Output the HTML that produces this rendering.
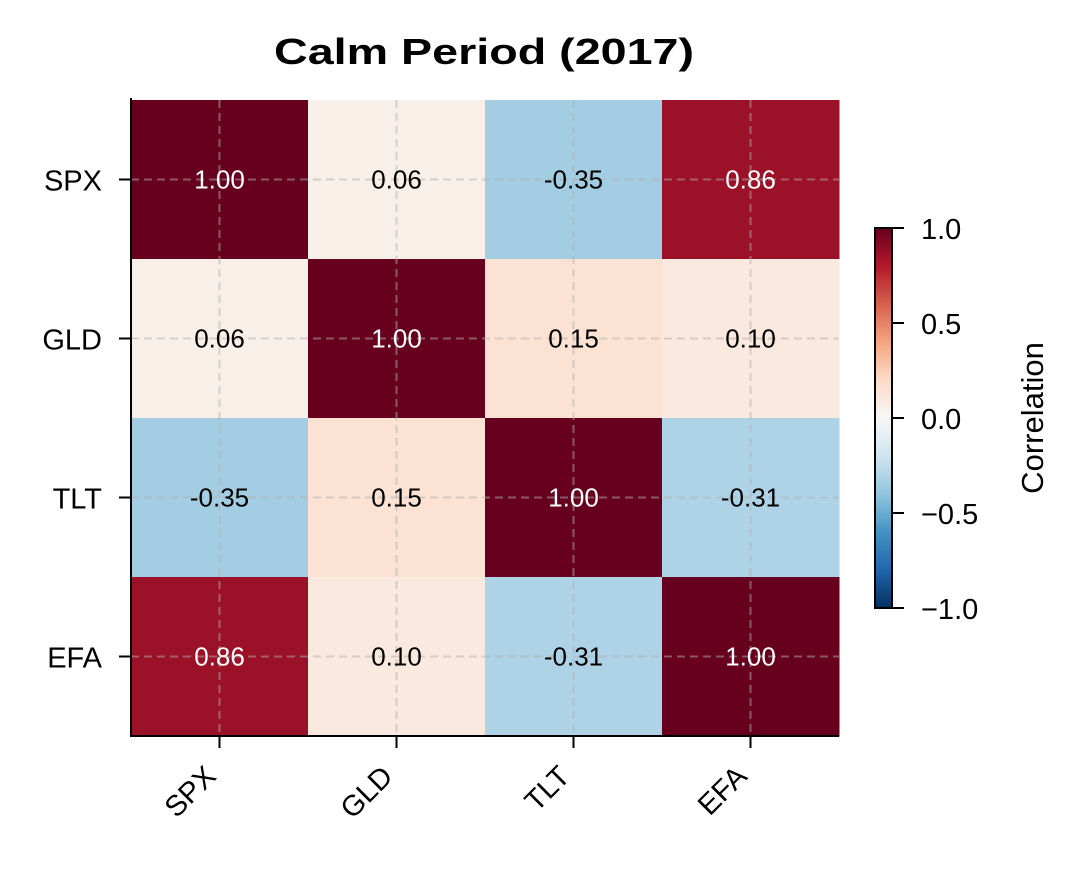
<!DOCTYPE html>
<html><head><meta charset="utf-8"><style>
body{margin:0;background:#fff;}
svg text{font-family:"Liberation Sans",sans-serif;}
</style></head><body>
<svg id="chart" width="1083" height="874"></svg>
<script>
const labels=["SPX","GLD","TLT","EFA"];
const matrix=[
 [1.00,0.06,-0.35,0.86],
 [0.06,1.00,0.15,0.10],
 [-0.35,0.15,1.00,-0.31],
 [0.86,0.10,-0.31,1.00]];
const cbTicks=[1.0,0.5,0.0,-0.5,-1.0];
const cbTickLabels=["1.0","0.5","0.0","\u22120.5","\u22121.0"];

const NS="http://www.w3.org/2000/svg";
const svg=document.getElementById('chart');
function mk(tag,attrs,parent){const e=document.createElementNS(NS,tag);for(const k in attrs)e.setAttribute(k,attrs[k]);(parent||svg).appendChild(e);return e;}
const rdbu=[[0.403921,0,0.121568],[0.698039,0.094117,0.168627],[0.839215,0.376470,0.301960],[0.956862,0.647058,0.509803],[0.992156,0.858823,0.780392],[0.968627,0.968627,0.968627],[0.819607,0.898039,0.941176],[0.572549,0.772549,0.870588],[0.262745,0.576470,0.764705],[0.129411,0.4,0.674509],[0.019607,0.188235,0.380392]];
function color(v){let t=(1-(v+1)/2)*10;t=Math.max(0,Math.min(10,t));const i=Math.min(9,Math.floor(t)),f=t-i;const c=rdbu[i].map((a,k)=>Math.round(255*(a+(rdbu[i+1][k]-a)*f)));return `rgb(${c[0]},${c[1]},${c[2]})`;}
const X0=131,X1=839,Y0=100,Y1=736,n=labels.length;
const cw=(X1-X0)/n,ch=(Y1-Y0)/n;
const xc=j=>X0+cw*(j+0.5), yc=i=>Y0+ch*(i+0.5);
const cells=mk('g',{});

matrix.forEach((row,i)=>row.forEach((v,j)=>{
 const r=mk('rect',{x:X0+cw*j,y:Y0+ch*i,width:cw+0.5,height:ch+0.5,fill:color(v)},cells);
 
 
}));
for(let k=0;k<n;k++){
 const g1=mk('line',{x1:xc(k),x2:xc(k),y1:Y0,y2:Y1,stroke:'#b0b0b0','stroke-opacity':0.5,'stroke-width':2,'stroke-dasharray':'8,5'});
 
 const g2=mk('line',{y1:yc(k),y2:yc(k),x1:X0,x2:X1,stroke:'#b0b0b0','stroke-opacity':0.5,'stroke-width':2,'stroke-dasharray':'8,5'});
 
}
matrix.forEach((row,i)=>row.forEach((v,j)=>{
 const t=mk('text',{x:xc(j),y:yc(i)+9,'text-anchor':'middle','font-size':26,fill:Math.abs(v)>0.5?'#fff':'#000'});
 t.textContent=v.toFixed(2);
 
}));
const sp1=mk('line',{x1:X0,x2:X0,y1:Y0-2,y2:Y1+1,stroke:'#000','stroke-width':2});

const sp2=mk('line',{x1:X0-1,x2:X1,y1:Y1,y2:Y1,stroke:'#000','stroke-width':2});

labels.forEach((l,k)=>{
 mk('line',{x1:X0-12,x2:X0,y1:yc(k),y2:yc(k),stroke:'#000','stroke-width':2});
 const ty=mk('text',{x:X0-29,y:yc(k)+11,'text-anchor':'end','font-size':29});
 ty.textContent=l;
 mk('line',{x1:xc(k),x2:xc(k),y1:Y1,y2:Y1+12,stroke:'#000','stroke-width':2});
 const ax=xc(k)-2, ay=Y1+42;
 const tx=mk('text',{x:ax,y:ay,'text-anchor':'end','font-size':29,transform:`rotate(-45 ${ax} ${ay})`});
 tx.textContent=l;
});
const title=mk('text',{x:484,y:64,'text-anchor':'middle','font-size':36,'font-weight':'bold',textLength:420,lengthAdjust:'spacingAndGlyphs'});
title.textContent='Calm Period (2017)';
const CX=875,CW=17,CY0=228,CY1=608;
const cy=v=>CY0+(1-v)/2*(CY1-CY0);
const defs=mk('defs',{});
const grad=mk('linearGradient',{id:'cbg',x1:0,y1:0,x2:0,y2:1},defs);
for(let s=0;s<=20;s++){const v=1-s/10;mk('stop',{offset:s/20,'stop-color':color(v)},grad);}
const cb=mk('rect',{x:CX,y:CY0,width:CW,height:CY1-CY0,fill:'url(#cbg)',stroke:'#000','stroke-width':2});

cbTicks.forEach((v,k)=>{
 mk('line',{x1:CX+CW,x2:CX+CW+12,y1:cy(v),y2:cy(v),stroke:'#000','stroke-width':2});
 const t=mk('text',{x:CX+CW+29,y:cy(v)+11,'font-size':29});
 t.textContent=cbTickLabels[k];
});
const cl=mk('text',{x:1043,y:418,'text-anchor':'middle','font-size':31,transform:'rotate(-90 1043 418)'});
cl.textContent='Correlation';
</script>
</body></html>
